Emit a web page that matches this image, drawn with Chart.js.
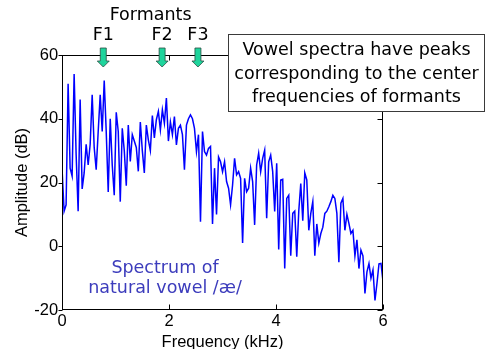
<!DOCTYPE html>
<html>
<head>
<meta charset="utf-8">
<script src="https://cdn.jsdelivr.net/npm/chart.js@4.4.1/dist/chart.umd.min.js"></script>
<style>
  html, body { margin: 0; padding: 0; background: #ffffff; }
  #wrap { width: 488px; height: 349px; }
</style>
</head>
<body>
<div id="wrap"><canvas id="spectrum" width="488" height="349"></canvas></div>
<script>
// Frequency bins of the measured spectrum (kHz)
const freqKHz = [
  0, 0.0375, 0.075, 0.1125, 0.15, 0.1875, 0.225, 0.2625,
  0.3, 0.3375, 0.375, 0.4125, 0.45, 0.4875, 0.525, 0.5625,
  0.6, 0.6375, 0.675, 0.7125, 0.75, 0.7875, 0.825, 0.8625,
  0.9, 0.9375, 0.975, 1.0125, 1.05, 1.0875, 1.125, 1.1625,
  1.2, 1.2375, 1.275, 1.3125, 1.35, 1.3875, 1.425, 1.4625,
  1.5, 1.5375, 1.575, 1.6125, 1.65, 1.6875, 1.725, 1.7625,
  1.8, 1.8375, 1.875, 1.9125, 1.95, 1.9875, 2.025, 2.0625,
  2.1, 2.1375, 2.175, 2.2125, 2.25, 2.2875, 2.325, 2.3625,
  2.4, 2.4375, 2.475, 2.5125, 2.55, 2.5875, 2.625, 2.6625,
  2.7, 2.7375, 2.775, 2.8125, 2.85, 2.8875, 2.925, 2.9625,
  3, 3.0375, 3.075, 3.1125, 3.15, 3.1875, 3.225, 3.2625,
  3.3, 3.3375, 3.375, 3.4125, 3.45, 3.4875, 3.525, 3.5625,
  3.6, 3.6375, 3.675, 3.7125, 3.75, 3.7875, 3.825, 3.8625,
  3.9, 3.9375, 3.975, 4.0125, 4.05, 4.0875, 4.125, 4.1625,
  4.2, 4.2375, 4.275, 4.3125, 4.35, 4.3875, 4.425, 4.4625,
  4.5, 4.5375, 4.575, 4.6125, 4.65, 4.6875, 4.725, 4.7625,
  4.8, 4.8375, 4.875, 4.9125, 4.95, 4.9875, 5.025, 5.0625,
  5.1, 5.1375, 5.175, 5.2125, 5.25, 5.2875, 5.325, 5.3625,
  5.4, 5.4375, 5.475, 5.5125, 5.55, 5.5875, 5.625, 5.6625,
  5.7, 5.7375, 5.775, 5.8125, 5.85, 5.8875, 5.925, 5.9625,
  6
];

// Amplitude at each bin (dB)
const amplitudeDb = [
  24, 11, 13, 51, 24.5, 22, 54, 28.7,
  11, 46, 18, 23, 32, 25.5, 32, 47.5,
  31, 24, 36, 47.5, 36, 52, 36, 17,
  40, 25.5, 16, 42, 36, 14, 37, 30,
  19, 38, 26.6, 35, 33, 31, 23.5, 39,
  30, 23, 38, 33.4, 30, 41, 34, 39.7,
  42.3, 36.5, 42.8, 38.6, 46.5, 33, 39, 35,
  40.7, 31.8, 37, 38, 35, 24, 38, 40,
  41.2, 40, 37, 29.7, 35, 7.7, 36, 29.7,
  28.6, 30.7, 31.3, 7, 24.5, 10, 28, 26.5,
  23.4, 26.5, 20.3, 18.2, 13, 19.2, 27.6, 22.4,
  23.4, 21.3, 1, 21.3, 17.1, 18.2, 24.5, 20.3,
  6.7, 25.5, 29.2, 23.4, 27.6, 30.2, 8.8, 26.5,
  28.6, 23.4, 10.9, 26, -1, 20.8, 21, -7,
  15, 16, -3, 10.3, 11, -3.3, 11, 19.7,
  8, 23, 20.8, 5, 10.3, 14, -3, 7,
  1, 4, 6, 10.3, 11, 12.4, 14, 16,
  15, 10.3, -5, 13.5, 15, 5, 10, 7.2,
  4, 5, -3, 2, -7, -1.2, -3, -14.8,
  -8, -5.4, -10, -7.4, -17, -11.6, -5.5, -5.4,
  -11
];

const xTickValues = [0, 2, 4, 6];
const yTickValues = [-20, 0, 20, 40, 60];

const formantNames = ['F1', 'F2', 'F3'];
const formantKHz = [0.77, 1.87, 2.54];

const noteLines = ['Vowel spectra have peaks', 'corresponding to the center', 'frequencies of formants'];
const captionLines = ['Spectrum of', 'natural vowel /\u00e6/'];

const AXIS_FONT = '"Liberation Sans", Arial, sans-serif';
const TEXT_FONT = '"DejaVu Sans", Verdana, sans-serif';

// Box frame with MATLAB-style tick marks
const framePlugin = {
  id: 'frame',
  afterDatasetsDraw(chart) {
    const { ctx, chartArea: a, scales: { x, y } } = chart;
    const L = Math.round(a.left) + 0.5, R = Math.round(a.right) - 0.5;
    const T = Math.round(a.top) + 0.5, B = Math.round(a.bottom) - 0.5;
    ctx.save();
    ctx.strokeStyle = '#000';
    ctx.lineWidth = 1;
    ctx.strokeRect(L, T, R - L, B - T);
    ctx.beginPath();
    xTickValues.forEach(v => {
      const px = Math.round(x.getPixelForValue(v)) + 0.5;
      ctx.moveTo(px, B); ctx.lineTo(px, B - 5);
      ctx.moveTo(px, T); ctx.lineTo(px, T + 5);
    });
    yTickValues.forEach(v => {
      const py = Math.round(y.getPixelForValue(v)) + 0.5;
      ctx.moveTo(L, py); ctx.lineTo(L - 4, py);
      ctx.moveTo(R, py); ctx.lineTo(R - 5, py);
    });
    ctx.stroke();
    ctx.restore();
  }
};

// Formant markers, explanatory note and caption
const notesPlugin = {
  id: 'notes',
  afterDraw(chart) {
    const { ctx, chartArea: a, scales: { x } } = chart;
    ctx.save();
    ctx.textAlign = 'center';
    ctx.textBaseline = 'middle';
    ctx.font = '17.5px ' + TEXT_FONT;
    ctx.fillStyle = '#000';

    const xs = formantKHz.map(f => x.getPixelForValue(f));
    xs.forEach((px, i) => {
      ctx.fillStyle = '#000';
      ctx.fillText(formantNames[i], px, 35);
      // downward arrow
      const tip = a.top + 12;
      ctx.beginPath();
      ctx.moveTo(px - 3, a.top - 7);
      ctx.lineTo(px + 3, a.top - 7);
      ctx.lineTo(px + 3, tip - 6);
      ctx.lineTo(px + 6, tip - 6);
      ctx.lineTo(px, tip);
      ctx.lineTo(px - 6, tip - 6);
      ctx.lineTo(px - 3, tip - 6);
      ctx.closePath();
      ctx.fillStyle = '#1fd49c';
      ctx.fill();
      ctx.strokeStyle = '#2b4f44';
      ctx.lineWidth = 0.8;
      ctx.stroke();
    });
    ctx.fillStyle = '#000';
    ctx.fillText('Formants', (xs[0] + xs[xs.length - 1]) / 2, 15);

    // note box
    const bx = 228.5, by = 34.5, bw = 256, bh = 77;
    ctx.fillStyle = '#fff';
    ctx.fillRect(bx, by, bw, bh);
    ctx.strokeStyle = '#3a3a3a';
    ctx.lineWidth = 1;
    ctx.strokeRect(bx, by, bw, bh);
    ctx.fillStyle = '#000';
    noteLines.forEach((t, i) => ctx.fillText(t, bx + bw / 2, by + 16 + i * 23.5));

    // caption
    ctx.fillStyle = '#3c3cbc';
    captionLines.forEach((t, i) => ctx.fillText(t, 165, 268 + i * 20));
    ctx.restore();
  }
};

new Chart(document.getElementById('spectrum'), {
  type: 'line',
  data: {
    datasets: [{
      data: freqKHz.map((f, i) => ({ x: f, y: amplitudeDb[i] })),
      borderColor: '#0000ff',
      borderWidth: 1.5,
      pointRadius: 0,
      tension: 0,
      fill: false
    }]
  },
  options: {
    responsive: false,
    animation: false,
    devicePixelRatio: 1,
    layout: { padding: { top: 55, right: 105, bottom: 0, left: 6 } },
    plugins: { legend: { display: false }, tooltip: { enabled: false } },
    scales: {
      x: {
        type: 'linear',
        min: 0, max: 6,
        afterBuildTicks: s => { s.ticks = xTickValues.map(v => ({ value: v })); },
        grid: { display: false, drawTicks: false },
        border: { display: false },
        ticks: { color: '#000', padding: 3, maxRotation: 0, font: { family: AXIS_FONT, size: 16.5, lineHeight: 1 } },
        title: { display: true, text: 'Frequency (kHz)', color: '#000', padding: { top: 4, bottom: 0 }, font: { family: AXIS_FONT, size: 16.5, lineHeight: '12.5px' } }
      },
      y: {
        min: -20, max: 60,
        afterBuildTicks: s => { s.ticks = yTickValues.map(v => ({ value: v })); },
        grid: { display: false, drawTicks: false },
        border: { display: false },
        ticks: { color: '#000', padding: 4, font: { family: AXIS_FONT, size: 16.5, lineHeight: 1 } },
        title: { display: true, text: 'Amplitude (dB)', color: '#000', padding: { top: 7.75, bottom: 0 }, font: { family: AXIS_FONT, size: 16.5, lineHeight: 1 } }
      }
    }
  },
  plugins: [framePlugin, notesPlugin]
});
</script>
</body>
</html>
